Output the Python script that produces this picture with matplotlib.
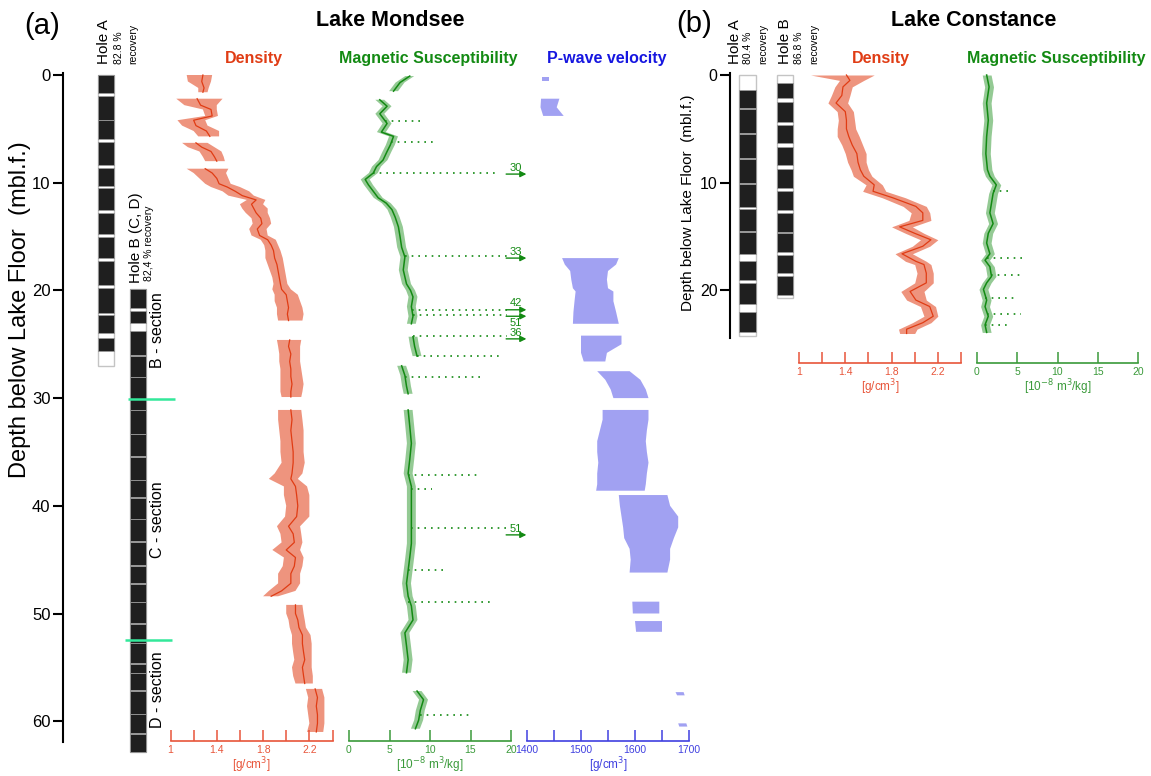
import numpy as np
import matplotlib
matplotlib.use("Agg")
import matplotlib.pyplot as plt

plt.rcParams['font.family'] = ['Liberation Sans', 'DejaVu Sans']

nan = np.nan

# ---------------- Lake Mondsee (a) ----------------
# density [g/cm3]: depth, centre, cloud low, cloud high
dens_a_depth = [0.0, 0.6, 1.2, 1.6, 1.8, 2.2, 2.8, 3.2, 3.8, 4.2, 4.7, 5.2, 5.7, 6.0, 6.3, 6.7, 7.1, 7.6, 8.0,
                8.4, 8.7, 9.1, 9.6, 10.1, 10.4, 10.8, 11.2, 11.6, 12.0, 12.4, 12.8, 13.3, 13.8, 14.3, 14.9, 15.3,
                15.8, 16.3, 17.0, 17.6, 18.2, 18.8, 19.4, 19.9, 20.4, 21.0, 21.6, 22.2, 22.8, 23.3, 24.4, 24.6,
                25.2, 25.9, 26.6, 27.3, 28.0, 28.7, 29.4, 29.9, 30.3, 31.1, 32.0, 33.0, 34.0, 35.0, 36.0, 37.0,
                37.5, 38.2, 39.0, 40.0, 41.0, 41.9, 42.6, 43.4, 44.1, 44.8, 45.6, 46.3, 47.2, 47.9, 48.4, 48.9,
                49.2, 50.0, 50.6, 51.3, 52.0, 52.8, 53.6, 54.3, 55.0, 55.8, 56.5, 56.8, 57.0, 57.8, 58.6, 59.4,
                60.2, 61.0]
dens_a_mid = [1.28, 1.27, 1.29, 1.28, nan, 1.23, 1.26, 1.35, 1.36, 1.20, 1.22, 1.31, 1.34, nan, 1.22, 1.27, 1.35,
              1.38, 1.40, nan, 1.30, 1.36, 1.40, 1.42, 1.49, 1.56, 1.62, 1.74, 1.70, 1.72, 1.74, 1.78, 1.79, 1.75,
              1.77, 1.84, 1.87, 1.89, 1.90, 1.92, 1.93, 1.94, 1.95, 1.96, 2.00, 2.01, 2.02, 2.01, 2.02, nan, nan,
              2.03, 2.02, 2.04, 2.03, 2.04, 2.04, 2.05, 2.04, 2.04, nan, 2.04, 2.05, 2.04, 2.05, 2.06, 2.06, 2.05,
              2.04, 2.08, 2.09, 2.10, 2.09, 2.02, 2.06, 2.07, 2.00, 2.08, 2.07, 2.04, 2.04, 1.96, 1.87, nan, 2.08,
              2.08, 2.10, 2.11, 2.14, 2.14, 2.15, 2.16, 2.14, 2.15, 2.16, nan, 2.25, 2.27, 2.26, 2.27, 2.27, 2.26]
dens_a_lo = [1.14, 1.15, 1.24, 1.24, nan, 1.05, 1.12, 1.28, 1.30, 1.06, 1.10, 1.20, 1.24, nan, 1.10, 1.15, 1.25,
             1.28, 1.30, nan, 1.14, 1.20, 1.25, 1.30, 1.35, 1.45, 1.50, 1.66, 1.60, 1.62, 1.65, 1.70, 1.71, 1.68,
             1.70, 1.78, 1.81, 1.82, 1.82, 1.84, 1.86, 1.88, 1.89, 1.88, 1.90, 1.90, 1.92, 1.92, 1.93, nan, nan,
             1.92, 1.93, 1.94, 1.94, 1.95, 1.95, 1.95, 1.95, 1.96, nan, 1.93, 1.93, 1.94, 1.95, 1.95, 1.96, 1.90,
             1.85, 1.98, 1.98, 2.00, 1.99, 1.92, 1.95, 1.96, 1.88, 1.98, 1.97, 1.93, 1.93, 1.85, 1.80, nan, 2.00,
             2.00, 2.02, 2.03, 2.05, 2.05, 2.06, 2.07, 2.05, 2.06, 2.08, nan, 2.17, 2.19, 2.18, 2.19, 2.20, 2.18]
dens_a_hi = [1.36, 1.35, 1.33, 1.32, nan, 1.45, 1.40, 1.40, 1.41, 1.30, 1.32, 1.42, 1.42, nan, 1.32, 1.38, 1.44,
             1.46, 1.47, nan, 1.50, 1.48, 1.50, 1.52, 1.60, 1.68, 1.72, 1.82, 1.80, 1.84, 1.84, 1.86, 1.87, 1.83,
             1.84, 1.91, 1.93, 1.95, 1.97, 1.98, 1.99, 2.00, 2.01, 2.04, 2.10, 2.12, 2.14, 2.15, 2.14, nan, nan,
             2.13, 2.12, 2.12, 2.12, 2.13, 2.14, 2.15, 2.14, 2.13, nan, 2.13, 2.14, 2.15, 2.15, 2.15, 2.16, 2.14,
             2.10, 2.18, 2.20, 2.20, 2.20, 2.12, 2.13, 2.14, 2.12, 2.15, 2.14, 2.12, 2.12, 2.08, 1.93, nan, 2.14,
             2.15, 2.16, 2.17, 2.21, 2.22, 2.22, 2.22, 2.22, 2.23, 2.23, nan, 2.31, 2.33, 2.33, 2.33, 2.33, 2.32]

# magnetic susceptibility [1e-8 m3/kg]
ms_a_depth = [0.1, 0.7, 1.5, 1.8, 2.3, 2.9, 3.6, 4.5, 5.3, 5.7, 6.5, 7.1, 7.9, 8.5, 9.1, 9.7, 10.2, 10.8, 11.4,
              11.9, 12.5, 13.2, 14.1, 15.0, 16.0, 16.9, 18.1, 19.4, 20.0, 20.6, 21.5, 22.4, 23.1, 23.5, 24.3, 25.2,
              26.1, 26.5, 27.0, 27.9, 28.9, 29.6, 30.3, 31.1, 32.6, 34.2, 35.7, 37.0, 38.2, 39.5, 41.0, 42.3, 43.5,
              44.8, 46.0, 47.2, 48.4, 49.3, 50.6, 51.8, 53.0, 54.3, 55.5, 56.3, 57.2, 58.0, 59.0, 59.9, 60.7]
ms_a_val = [7.5, 6.3, 5.5, nan, 3.8, 4.7, 3.8, 4.7, 4.0, 5.5, 5.1, 4.7, 4.2, 3.4, 3.0, 2.0, 2.4, 3.0, 3.6, 4.6,
            5.3, 5.7, 6.1, 6.3, 6.5, 6.9, 6.7, 7.1, 7.6, 7.9, 7.7, 7.9, 7.7, nan, 7.9, 8.1, 8.4, nan, 6.5, 6.9,
            7.1, 7.3, nan, 7.3, 7.5, 7.7, 7.5, 7.3, 7.7, 7.7, 7.7, 7.7, 7.7, 7.5, 7.3, 7.1, 7.3, 7.7, 7.9, 6.9,
            7.1, 7.3, 7.1, nan, 8.4, 9.2, 8.8, 8.6, 8.2]
ms_a_spike_depth = [4.3, 6.2, 9.1, 16.8, 21.8, 22.3, 24.2, 26.1, 28.0, 37.1, 38.4, 42.1, 46.0, 48.9, 59.4]
ms_a_spike_from = [4.5, 5.2, 3.0, 6.9, 7.8, 7.9, 7.9, 8.4, 6.9, 7.3, 7.7, 7.7, 7.3, 7.3, 8.8]
ms_a_spike_to = [8.8, 10.6, 18.0, 19.5, 19.5, 19.5, 19.5, 19.0, 16.3, 15.8, 10.3, 19.5, 12.0, 17.4, 15.0]
offscale_depth = [9.2, 17.0, 21.8, 22.4, 24.5, 42.7]
offscale_label = ['30', '33', '42', '51', '36', '51']

# P-wave velocity
pw_depth = [0.2, 0.6, 1.0, 2.2, 3.0, 3.8, 4.0, 16.9, 17.0, 17.6, 18.2, 19.0, 19.8, 20.1, 21.0, 22.0, 23.1, 23.6,
            24.2, 25.0, 25.8, 26.6, 27.0, 27.5, 28.3, 29.2, 30.0, 30.5, 31.1, 32.0, 33.0, 34.0, 35.0, 36.0, 37.0,
            38.0, 38.6, 38.8, 39.0, 40.0, 41.0, 42.0, 43.0, 44.0, 45.0, 46.2, 46.6, 48.9, 50.0, 50.3, 50.7, 51.7,
            52.0, 57.3, 57.6, 58.0, 60.2, 60.5]
pw_lo = [1428, 1428, nan, 1426, 1425, 1430, nan, nan, 1465, 1470, 1480, 1482, 1485, 1490, 1488, 1486, 1485, nan,
         1500, 1500, 1500, 1505, nan, 1530, 1545, 1555, 1560, nan, 1540, 1540, 1535, 1530, 1530, 1532, 1530, 1530,
         1528, nan, 1570, 1572, 1575, 1578, 1580, 1590, 1592, 1590, nan, 1595, 1596, nan, 1600, 1602, nan, 1675,
         1678, nan, 1680, 1682]
pw_hi = [1440, 1440, nan, 1460, 1455, 1468, nan, nan, 1570, 1565, 1550, 1548, 1550, 1560, 1560, 1565, 1570, nan,
         1575, 1575, 1548, 1545, nan, 1590, 1610, 1620, 1625, nan, 1625, 1625, 1622, 1620, 1622, 1625, 1622, 1620,
         1618, nan, 1660, 1665, 1680, 1680, 1672, 1665, 1665, 1660, nan, 1645, 1645, nan, 1650, 1650, nan, 1690,
         1692, nan, 1695, 1697]

# cores: (top, base) of recovered sections
holeA_a = [(0, 1.67), (1.98, 4.15), (4.2, 5.94), (6.22, 8.33), (8.64, 10.3), (10.5, 12.5), (12.8, 14.8),
           (15.0, 17.0), (17.25, 19.5), (19.8, 22.1), (22.25, 23.95), (24.4, 25.6)]
holeA_a_end = 27.05
holeB_a = [(19.9, 21.6), (21.9, 23.06), (23.8, 26.0), (26.05, 28.0), (28.05, 31.1), (31.15, 33.3), (33.35, 35.4),
           (35.45, 37.6), (37.65, 39.2), (39.25, 41.2), (41.25, 43.3), (43.35, 45.5), (45.55, 47.2), (47.25, 48.9),
           (48.95, 50.9), (50.95, 52.7), (52.75, 54.6), (54.65, 55.5), (55.55, 57.1), (57.15, 59.3), (59.35, 61.1),
           (61.15, 62.9)]
holeB_a_start, holeB_a_end = 19.9, 62.9
section_bounds = [30.1, 52.5]

# ---------------- Lake Constance (b) ----------------
dens_b_depth = [0.0, 0.5, 1.1, 1.9, 2.6, 3.4, 4.2, 5.0, 5.7, 6.5, 7.3, 8.1, 8.8, 9.4, 10.2, 10.8, 11.4, 12.2, 12.8,
                13.5, 14.1, 14.7, 15.3, 15.9, 16.6, 17.3, 17.6, 18.4, 19.3, 20.1, 20.9, 21.5, 22.4, 23.0, 23.6, 24.0]
dens_b_mid = [1.41, 1.44, 1.38, 1.37, 1.32, 1.40, 1.41, 1.41, 1.43, 1.46, 1.50, 1.51, 1.53, 1.56, 1.65, 1.64, 1.81,
              2.01, 2.07, 2.07, 1.87, 2.00, 2.14, 2.07, 1.89, 2.01, 2.08, 2.10, 2.10, 1.96, 2.01, 2.13, 2.16, 2.07,
              1.93, 1.93]
dens_b_lo = [1.10, 1.35, 1.31, 1.28, 1.25, 1.33, 1.34, 1.33, 1.33, 1.37, 1.40, 1.42, 1.45, 1.47, 1.58, 1.55, 1.72,
             1.90, 1.97, 1.95, 1.80, 1.92, 2.05, 1.98, 1.83, 1.92, 2.00, 2.02, 2.00, 1.88, 1.93, 2.05, 2.08, 1.98,
             1.86, 1.87]
dens_b_hi = [1.65, 1.56, 1.46, 1.44, 1.42, 1.47, 1.48, 1.49, 1.52, 1.55, 1.58, 1.58, 1.60, 1.63, 1.72, 1.75, 1.92,
             2.10, 2.13, 2.14, 1.98, 2.08, 2.20, 2.13, 1.98, 2.10, 2.14, 2.16, 2.16, 2.08, 2.10, 2.18, 2.20, 2.14,
             2.02, 2.00]
ms_b_depth = [0.0, 1.1, 2.6, 4.2, 5.7, 7.3, 8.8, 9.4, 10.2, 11.0, 11.9, 12.8, 13.8, 14.7, 15.6, 16.6, 17.2, 17.8,
              18.7, 19.3, 19.9, 20.9, 21.5, 22.4, 23.2, 23.9]
ms_b_val = [1.2, 1.5, 1.2, 1.4, 1.2, 1.1, 1.3, 1.6, 2.4, 2.0, 1.8, 1.6, 2.0, 1.4, 1.2, 1.6, 1.0, 1.6, 1.8, 1.2,
            0.8, 1.2, 1.0, 1.4, 1.0, 1.2]
ms_b_spike_depth = [10.8, 17.0, 18.6, 20.7, 22.2, 23.2]
ms_b_spike_from = [2.0, 1.2, 1.8, 1.0, 1.3, 1.0]
ms_b_spike_to = [4.0, 6.0, 5.5, 5.0, 5.5, 4.0]

holeA_b = [(1.35, 3.1), (3.2, 5.4), (5.5, 7.7), (7.8, 10.0), (10.1, 12.3), (12.4, 14.5), (14.6, 16.6),
           (17.3, 19.0), (19.3, 21.3), (22.0, 23.9)]
holeA_b_end = 24.2
holeB_b = [(0.77, 2.17), (2.54, 4.33), (4.64, 6.34), (6.7, 8.36), (8.73, 10.5), (10.8, 12.5), (12.85, 14.55),
           (14.7, 16.4), (16.7, 18.4), (18.7, 20.4)]
holeB_b_end = 20.7

# ---------------- layout ----------------
W, H = 1151, 776
PXM, Y0 = 10.77, 75.0
RED, RED_AX = '#e03c14', '#e8553a'
GRN, GRN_AX = '#138a13', '#3a9a3a'
BLU, BLU_AX = '#1616e0', '#4040e0'

fig = plt.figure(figsize=(W / 100, H / 100), dpi=100)


def px_axes(x0, y0, x1, y1):
    ax = fig.add_axes([x0 / W, 1 - y1 / H, (x1 - x0) / W, (y1 - y0) / H])
    ax.patch.set_visible(False)
    return ax


def set_depth(ax, y0, y1):
    ax.set_ylim((y1 - Y0) / PXM, (y0 - Y0) / PXM)


def ftext(x, y, s, **kw):
    fig.text(x / W, 1 - y / H, s, **kw)


def depth_axis(x, y0, y1, ticks, fs):
    ax = px_axes(x, y0, x + 1, y1)
    set_depth(ax, y0, y1)
    for s in ['top', 'right', 'bottom']:
        ax.spines[s].set_visible(False)
    ax.spines['left'].set_linewidth(1.5)
    ax.set_xticks([])
    ax.set_yticks(ticks)
    ax.tick_params(axis='y', length=7, width=1.5, labelsize=fs, pad=2)
    return ax


def data_axis(x0, x1, y0, y1, xlim, color, major, labels, minor, unit):
    ax = px_axes(x0, y0, x1, y1)
    set_depth(ax, y0, y1)
    ax.set_xlim(*xlim)
    for s in ['top', 'right', 'left']:
        ax.spines[s].set_visible(False)
    ax.spines['bottom'].set_color(color)
    ax.spines['bottom'].set_linewidth(1.2)
    ax.set_yticks([])
    ax.set_xticks(major)
    ax.set_xticklabels(labels)
    ax.set_xticks(minor, minor=True)
    ax.tick_params(axis='x', which='both', direction='in', length=8, width=1.1, color=color,
                   labelcolor=color, labelsize=7.5, pad=3)
    ax.set_xlabel(unit, color=color, fontsize=8.5, labelpad=0)
    return ax


def cloud(ax, d, mid, lo, hi, color, alpha):
    ax.fill_betweenx(d, lo, hi, color=color, alpha=alpha, lw=0)
    if mid is not None:
        ax.plot(mid, d, color=color, lw=0.9)


def trace(ax, d, v, sd, s0, s1, color):
    v = np.array(v)
    ax.fill_betweenx(d, v - 0.55, v + 0.55, color=color, alpha=0.45, lw=0)
    ax.plot(v, d, color=color, lw=1.1)
    ax.hlines(sd, s0, s1, colors=color, linestyles=(0, (1, 3)), lw=1.2)


def cores(ax, xs, width, tops, ends, blocks):
    for x, t, e, bl in zip(xs, tops, ends, blocks):
        ax.bar(x, e - t, bottom=t, width=width, color='white', edgecolor='#c4c4c4', lw=1.0)
        ax.bar([x] * len(bl), [b - a for a, b in bl], bottom=[a for a, b in bl], width=width,
               color='#1f1f1f', edgecolor='#999999', lw=0.6)


dens_ticks = dict(major=[1, 1.4, 1.8, 2.2], labels=['1', '1.4', '1.8', '2.2'], minor=[1.2, 1.6, 2.0, 2.4],
                  unit='[g/cm$^3$]')
ms_ticks = dict(major=[0, 5, 10, 15, 20], labels=['0', '5', '10', '15', '20'], minor=[],
                unit='[10$^{-8}$ m$^3$/kg]')

# ----- panel (a) -----
AX_BOT = 741
depth_axis(63, 73, 742, range(0, 61, 10), 12)
ftext(20, 310, 'Depth below Lake Floor  (mbl.f.)', rotation=90, fontsize=17, ha='center', va='center')

axc = px_axes(85, 70, 180, 760)
set_depth(axc, 70, 760)
axc.set_xlim(-0.656, 2.3125)
axc.axis('off')
cores(axc, [0, 1], 0.5, [0, holeB_a_start], [holeA_a_end, holeB_a_end], [holeA_a, holeB_a])
axc.hlines(section_bounds, [0.69, 0.59], [2.16, 2.06], colors='#33e89a', lw=1.8)
for lab, d in [('B - section', 23.7), ('C - section', 41.3), ('D - section', 57.1)]:
    axc.text(1.625, d, lab, rotation=90, ha='center', va='center', fontsize=11.5)

axd = data_axis(170.5, 332.5, 70, AX_BOT, (1, 2.4), RED_AX, **dens_ticks)
cloud(axd, dens_a_depth, dens_a_mid, dens_a_lo, dens_a_hi, RED, 0.55)

axm = data_axis(349, 511, 70, AX_BOT, (0, 20), GRN_AX, **ms_ticks)
trace(axm, ms_a_depth, ms_a_val, ms_a_spike_depth, ms_a_spike_from, ms_a_spike_to, GRN)
for d, lab in zip(offscale_depth, offscale_label):
    axm.annotate('', xy=(21.9, d), xytext=(19.4, d), annotation_clip=False,
                 arrowprops=dict(arrowstyle='-|>', color=GRN, lw=1.0, mutation_scale=9, shrinkA=0, shrinkB=0))
    below = (lab == '51' and d < 30)
    axm.text(20.6, d + (0.12 if below else -0.12), lab, color=GRN, fontsize=8, ha='center',
             va='top' if below else 'bottom', clip_on=False)

axp = data_axis(527, 689, 70, AX_BOT, (1400, 1700), BLU_AX,
                major=[1400, 1500, 1600, 1700], labels=['1400', '1500', '1600', '1700'],
                minor=[1450, 1550, 1650], unit='[g/cm$^3$]')
cloud(axp, pw_depth, None, pw_lo, pw_hi, BLU, 0.4)

# ----- panel (b) -----
BX_BOT = 363
depth_axis(730, 73, 338, [0, 10, 20], 11.5)
ftext(688, 203, 'Depth below Lake Floor  (mbl.f.)', rotation=90, fontsize=11, ha='center', va='center')

axc2 = px_axes(735, 70, 800, 345)
set_depth(axc2, 70, 345)
axc2.set_xlim(-0.333, 1.4)
axc2.axis('off')
cores(axc2, [0, 1], 0.43, [0, 0], [holeA_b_end, holeB_b_end], [holeA_b, holeB_b])

axd2 = data_axis(799, 961, 70, BX_BOT, (1, 2.4), RED_AX, **dens_ticks)
cloud(axd2, dens_b_depth, dens_b_mid, dens_b_lo, dens_b_hi, RED, 0.55)

axm2 = data_axis(977, 1138, 70, BX_BOT, (0, 20), GRN_AX, **ms_ticks)
trace(axm2, ms_b_depth, ms_b_val, ms_b_spike_depth, ms_b_spike_from, ms_b_spike_to, GRN)

# ----- texts -----
ftext(42, 26, '(a)', fontsize=21, ha='center', va='center')
ftext(694, 24, '(b)', fontsize=21, ha='center', va='center')
ftext(390, 20, 'Lake Mondsee', fontsize=15.5, fontweight='bold', ha='center', va='center')
ftext(974, 20, 'Lake Constance', fontsize=15.5, fontweight='bold', ha='center', va='center')

for x, s, c in [(254, 'Density', RED), (428, 'Magnetic Susceptibility', GRN), (607, 'P-wave velocity', BLU),
                (881, 'Density', RED), (1056, 'Magnetic Susceptibility', GRN)]:
    ftext(x, 58, s, color=c, fontsize=11.5, fontweight='bold', ha='center', va='center')

for x, s, fs in [(104, 'Hole A', 11), (119, '82.8 %', 7.5), (133, 'recovery', 7.5),
                 (735, 'Hole A', 11), (748, '80.4 %', 7.5), (763, 'recovery', 7.5),
                 (785, 'Hole B', 11), (799, '86.8 %', 7.5), (814, 'recovery', 7.5)]:
    ftext(x, 64, s, rotation=90, fontsize=fs, ha='center', va='bottom')
ftext(136, 283, 'Hole B (C, D)', rotation=90, fontsize=11, ha='center', va='bottom')
ftext(149, 281, '82,4 % recovery', rotation=90, fontsize=7.5, ha='center', va='bottom')

fig.savefig('out.png', dpi=100)
